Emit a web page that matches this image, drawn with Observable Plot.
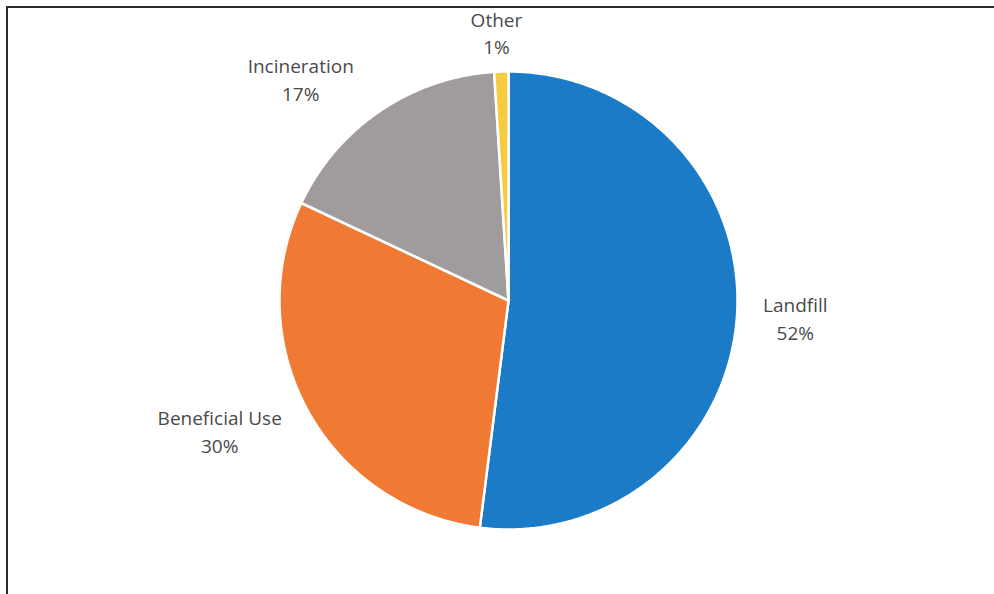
<!DOCTYPE html>
<html>
<head>
<meta charset="utf-8">
<script src="https://cdn.jsdelivr.net/npm/d3@7"></script>
<script src="https://cdn.jsdelivr.net/npm/@observablehq/plot@0.6"></script>
<style>
  html, body { margin: 0; padding: 0; background: #ffffff; }
  #wrap { position: relative; width: 994px; height: 594px; overflow: hidden; }
  #wrap svg { position: absolute; left: 0; top: 0; }
  #border { position: absolute; left: 6px; top: 6px; width: 990px; height: 590px;
            border-top: 2px solid #2b2b2b; border-left: 2px solid #2b2b2b; pointer-events: none; }
</style>
</head>
<body>
<div id="wrap"><div id="border"></div></div>
<script>
// ---- data ----
const categories = ["Landfill", "Beneficial Use", "Incineration", "Other"];
const shares = [52, 30, 17, 1];

// ---- layout ----
const W = 994, H = 594;
const cx = 508, cy = 300, R = 229;
const fontSize = 19;
const fontFamily = "'Open Sans', 'Noto Sans', sans-serif";

const pie = d3.pie().sort(null).value(d => d.share).startAngle(0).endAngle(2 * Math.PI);
const rows = categories.map((c, i) => ({category: c, share: shares[i]}));
const arcs = pie(rows);

// slice outlines (unit circle, y up)
const slicePts = [];
for (const a of arcs) {
  const n = Math.max(2, Math.ceil((a.endAngle - a.startAngle) / (Math.PI / 360)));
  slicePts.push({category: a.data.category, x: 0, y: 0});
  for (let k = 0; k <= n; k++) {
    const t = a.startAngle + (a.endAngle - a.startAngle) * k / n;
    slicePts.push({category: a.data.category, x: Math.sin(t), y: Math.cos(t)});
  }
}

// label positions derived from slice mid-angles
const ctx = document.createElement("canvas").getContext("2d");
ctx.font = `${fontSize}px ${fontFamily}`;
const labels = arcs.map(a => {
  const m = (a.startAngle + a.endAngle) / 2;
  const s = Math.sin(m), c = Math.cos(m);
  const text = `${a.data.category}\n${a.data.share}%`;
  const halfW = Math.max(...text.split("\n").map(t => ctx.measureText(t).width)) / 2;
  const ox = Math.max(-1, Math.min(1, s * 3)) * (halfW + 26);
  const oy = -c * 40; // pixels, downward
  return {text, x: s + ox / R, y: c - oy / R};
});

const chart = Plot.plot({
  width: W,
  height: H,
  margin: 0,
  style: {background: "transparent", fontFamily},
  x: {type: "linear", domain: [-cx / R, (W - cx) / R], range: [0, W], axis: null},
  y: {type: "linear", domain: [-(H - cy) / R, cy / R], range: [H, 0], axis: null},
  color: {domain: categories, range: ["#1b7bc6", "#f07a33", "#a09c9d", "#f7cb3e"]},
  marks: [
    Plot.line(slicePts, {x: "x", y: "y", z: "category", fill: "category",
      stroke: "white", strokeWidth: 2.5, curve: "linear-closed"}),
    Plot.text(labels, {x: "x", y: "y", text: "text", fontSize, lineHeight: 1.45,
      fill: "#4a4a4a", textAnchor: "middle", lineAnchor: "middle"})
  ]
});
document.getElementById("wrap").prepend(chart);
</script>
</body>
</html>
